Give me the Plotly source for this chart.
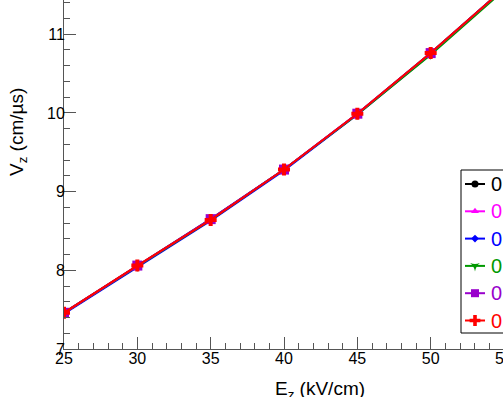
import plotly.graph_objects as go

# drift field (kV/cm)
e_field = [25, 30, 35, 40, 45, 50, 55]

# drift velocity (cm/us) for each setting
v_black = [7.46, 8.06, 8.65, 9.28, 9.99, 10.76, 11.58]
v_magenta = [7.46, 8.05, 8.64, 9.28, 9.99, 10.75, 11.57]
v_blue = [7.45, 8.04, 8.63, 9.27, 9.98, 10.75, 11.58]
v_green = [7.46, 8.05, 8.64, 9.28, 9.98, 10.74, 11.56]
v_purple = [7.46, 8.06, 8.65, 9.28, 9.99, 10.76, 11.58]
v_red = [7.46, 8.06, 8.64, 9.28, 9.99, 10.76, 11.58]

names = ["0.0 T", "0.1 T", "0.2 T", "0.3 T", "0.4 T", "0.5 T"]

# colour, symbol, marker size on plot, marker size in legend
series = [
    (v_black, "black", "circle", 8, 7),
    (v_magenta, "#ff00ff", "triangle-up", 8, 7),
    (v_blue, "#0000ff", "diamond", 6, 6),
    (v_green, "#009900", "star-triangle-down", 7, 7),
    (v_purple, "#9900cc", "square", 10, 8),
    (v_red, "#ff0000", "cross", 10, 9),
]

# figure is a bit wider than the window, the page crops it like the reference
W, H = 515, 397
ML, MB = 64, 48
SX0, SX1, SY0, SY1 = ML, W, 0, H - MB


def pxx(p):
    return (p - SX0) / (SX1 - SX0)


def pxy(p):
    return (SY1 - p) / (SY1 - SY0)


fig = go.Figure()
for (vals, col, sym, sz, lsz), nm in zip(series, names):
    fig.add_trace(go.Scatter(
        x=e_field, y=vals, mode="lines+markers", name=nm, showlegend=False,
        line=dict(color=col, width=2),
        marker=dict(color=col, symbol=sym, size=sz, line=dict(width=0)),
    ))

# legend box drawn on an overlay axis measured in screen pixels
leg_y = [184, 211.3, 238.6, 265.9, 293.2, 320.5]
shapes = [dict(type="rect", xref="x2", yref="y2", x0=461, x1=540, y0=170, y1=333,
               fillcolor="white", line=dict(color="black", width=1), layer="below")]
annotations = []
for (vals, col, sym, sz, lsz), nm, ly in zip(series, names, leg_y):
    fig.add_trace(go.Scatter(
        x=[465, 485], y=[ly, ly], mode="lines", xaxis="x2", yaxis="y2",
        showlegend=False, hoverinfo="skip", line=dict(color=col, width=2)))
    fig.add_trace(go.Scatter(
        x=[475], y=[ly], mode="markers", xaxis="x2", yaxis="y2",
        showlegend=False, hoverinfo="skip",
        marker=dict(color=col, symbol=sym, size=lsz, line=dict(width=0))))
    annotations.append(dict(text=nm, x=pxx(489), y=pxy(ly), xref="paper", yref="paper",
                            xanchor="left", yanchor="middle", showarrow=False,
                            font=dict(size=20, color=col)))

annotations += [
    dict(text="E<sub>z</sub> (kV/cm)", x=pxx(320), y=pxy(390), xref="paper", yref="paper",
         xanchor="center", yanchor="middle", showarrow=False, font=dict(size=19)),
    dict(text="V<sub>z</sub> (cm/\u00b5s)", x=pxx(18), y=pxy(132), xref="paper", yref="paper",
         xanchor="center", yanchor="middle", textangle=-90, showarrow=False,
         font=dict(size=19)),
]

axis_common = dict(
    showline=True, linecolor="#555555", linewidth=1,
    ticks="inside", tickcolor="#555555", ticklen=12, tickwidth=1,
    showgrid=False, zeroline=False, mirror=False, ticklabelstandoff=-5,
    tickfont=dict(family="Liberation Sans, Arial", size=16, color="black"),
)

fig.update_layout(
    width=W, height=H,
    margin=dict(l=ML, r=0, t=0, b=MB, autoexpand=False),
    paper_bgcolor="white", plot_bgcolor="white",
    font=dict(family="Liberation Sans, Arial", color="black"),
    xaxis=dict(range=[25, 25 + (SX1 - SX0) / 14.667], tickvals=[25, 30, 35, 40, 45, 50, 55],
               minor=dict(ticks="inside", dtick=1, ticklen=6, tickcolor="#555555"),
               **axis_common),
    yaxis=dict(range=[7, 7 + (SY1 - SY0) / 78.7], tickvals=[7, 8, 9, 10, 11],
               minor=dict(ticks="inside", dtick=0.2, ticklen=6, tickcolor="#555555"),
               **axis_common),
    xaxis2=dict(range=[SX0, SX1], overlaying="x", anchor="y2", visible=False,
                fixedrange=True),
    yaxis2=dict(range=[SY1, SY0], overlaying="y", anchor="x2", visible=False,
                fixedrange=True),
    showlegend=False,
    shapes=shapes,
    annotations=annotations,
)

fig.write_html("out.html", config={"displayModeBar": False},
               post_script="document.body.style.margin='0';"
                           "document.body.style.overflow='hidden';")
